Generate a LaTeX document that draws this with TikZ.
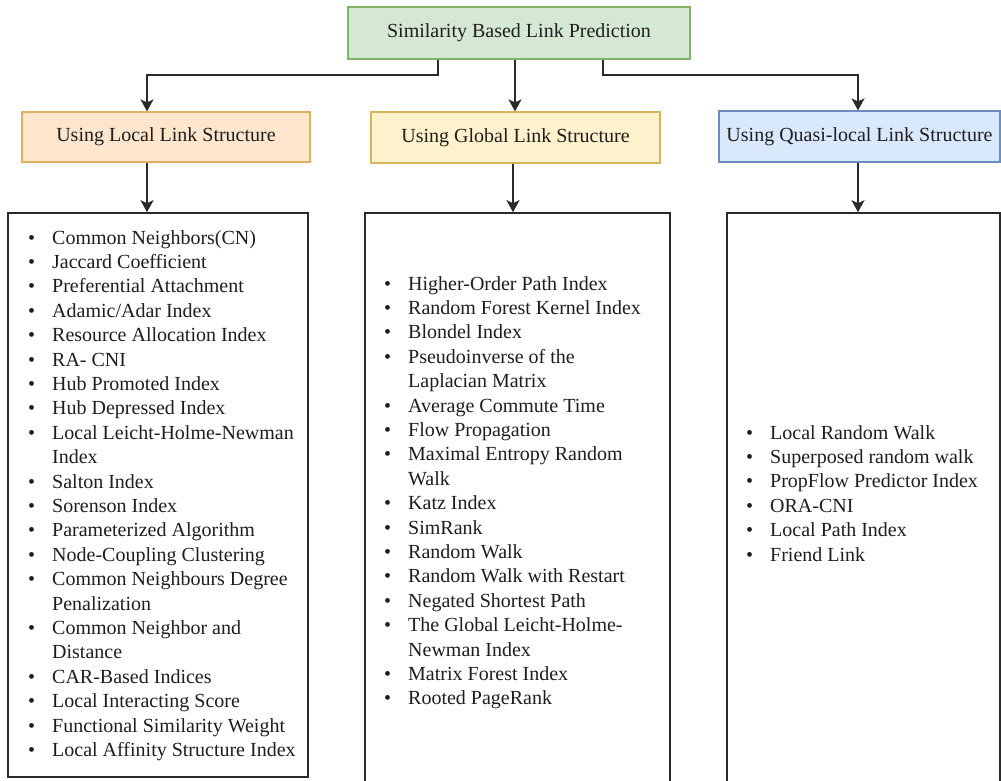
\documentclass[tikz,border=0pt]{standalone}
\usepackage{fontspec}
\setmainfont{Liberation Serif}
\usetikzlibrary{arrows.meta}
\definecolor{gfill}{HTML}{D5E8D4}\definecolor{gdraw}{HTML}{82B366}
\definecolor{ofill}{HTML}{FFE6CC}\definecolor{odraw}{HTML}{E0B060}
\definecolor{yfill}{HTML}{FFF2CC}\definecolor{ydraw}{HTML}{D6B656}
\definecolor{bfill}{HTML}{DAE8FC}\definecolor{bdraw}{HTML}{6C8EBF}
\definecolor{txt}{HTML}{1E1E1E}\definecolor{ln}{HTML}{2A2A2A}
\newcommand\myfont{\fontsize{20}{24.4}\selectfont}
\begin{document}
\begin{tikzpicture}[x=1pt,y=-1pt,
  hdr/.style={draw, line width=1.2pt, rectangle, inner sep=0pt, font=\myfont, text=txt},
  listbox/.style={draw=ln, line width=1.6pt, rectangle, inner sep=0pt, fill=white},
  listtext/.style={inner sep=0pt, anchor=base west, font=\myfont, text=txt},
  conn/.style={draw=ln, line width=1.6pt, -{Stealth[length=12pt,width=13pt,inset=3pt]}}]
\useasboundingbox (0,0) rectangle (1001,780);
\fill[white] (0,0) rectangle (1001,780);

\node[hdr, fill=gfill, draw=gdraw, minimum width=342pt, minimum height=52pt] (top) at (519,33) {Similarity Based Link Prediction};
\node[hdr, fill=ofill, draw=odraw, minimum width=288pt, minimum height=50pt] (hL) at (166,137) {Using Local Link Structure};
\node[hdr, fill=yfill, draw=ydraw, minimum width=289pt, minimum height=51pt] (hG) at (515.5,137.5) {Using Global Link Structure};
\node[hdr, fill=bfill, draw=bdraw, minimum width=281pt, minimum height=51pt] (hQ) at (859.5,136.5) {Using Quasi-local Link Structure};

\node[listbox, minimum width=300pt, minimum height=564pt] (lL) at (158,495) {};
\node[listbox, minimum width=305pt, minimum height=572pt] (lG) at (517.5,499) {};
\node[listbox, minimum width=273pt, minimum height=572pt] (lQ) at (863.5,499) {};

\node[listtext] (tL) at (28,244) {\begin{tabular}[t]{@{}l@{\hspace{17pt}}l@{}}
\textbullet & Common Neighbors(CN)\\
\textbullet & Jaccard Coefficient\\
\textbullet & Preferential Attachment\\
\textbullet & Adamic/Adar Index\\
\textbullet & Resource Allocation Index\\
\textbullet & RA- CNI\\
\textbullet & Hub Promoted Index\\
\textbullet & Hub Depressed Index\\
\textbullet & Local Leicht-Holme-Newman\\
 & Index\\
\textbullet & Salton Index\\
\textbullet & Sorenson Index\\
\textbullet & Parameterized Algorithm\\
\textbullet & Node-Coupling Clustering\\
\textbullet & Common Neighbours Degree\\
 & Penalization\\
\textbullet & Common Neighbor and\\
 & Distance\\
\textbullet & CAR-Based Indices\\
\textbullet & Local Interacting Score\\
\textbullet & Functional Similarity Weight\\
\textbullet & Local Affinity Structure Index
\end{tabular}};

\node[listtext] (tG) at (384,290) {\begin{tabular}[t]{@{}l@{\hspace{17pt}}l@{}}
\textbullet & Higher-Order Path Index\\
\textbullet & Random Forest Kernel Index\\
\textbullet & Blondel Index\\
\textbullet & Pseudoinverse of the\\
 & Laplacian Matrix\\
\textbullet & Average Commute Time\\
\textbullet & Flow Propagation\\
\textbullet & Maximal Entropy Random\\
 & Walk\\
\textbullet & Katz Index\\
\textbullet & SimRank\\
\textbullet & Random Walk\\
\textbullet & Random Walk with Restart\\
\textbullet & Negated Shortest Path\\
\textbullet & The Global Leicht-Holme-\\
 & Newman Index\\
\textbullet & Matrix Forest Index\\
\textbullet & Rooted PageRank
\end{tabular}};

\node[listtext] (tQ) at (746,439) {\begin{tabular}[t]{@{}l@{\hspace{17pt}}l@{}}
\textbullet & Local Random Walk\\
\textbullet & Superposed random walk\\
\textbullet & PropFlow Predictor Index\\
\textbullet & ORA-CNI\\
\textbullet & Local Path Index\\
\textbullet & Friend Link
\end{tabular}};

\draw[conn] (438,0 |- top.south) |- (147,75) -- (147,0 |- hL.north);
\draw[conn] (515,0 |- top.south) -- (515,0 |- hG.north);
\draw[conn] (603,0 |- top.south) |- (858,75) -- (858,0 |- hQ.north);

\draw[conn] (147,0 |- hL.south) -- (147,0 |- lL.north);
\draw[conn] (513,0 |- hG.south) -- (513,0 |- lG.north);
\draw[conn] (858,0 |- hQ.south) -- (858,0 |- lQ.north);
\end{tikzpicture}
\end{document}
